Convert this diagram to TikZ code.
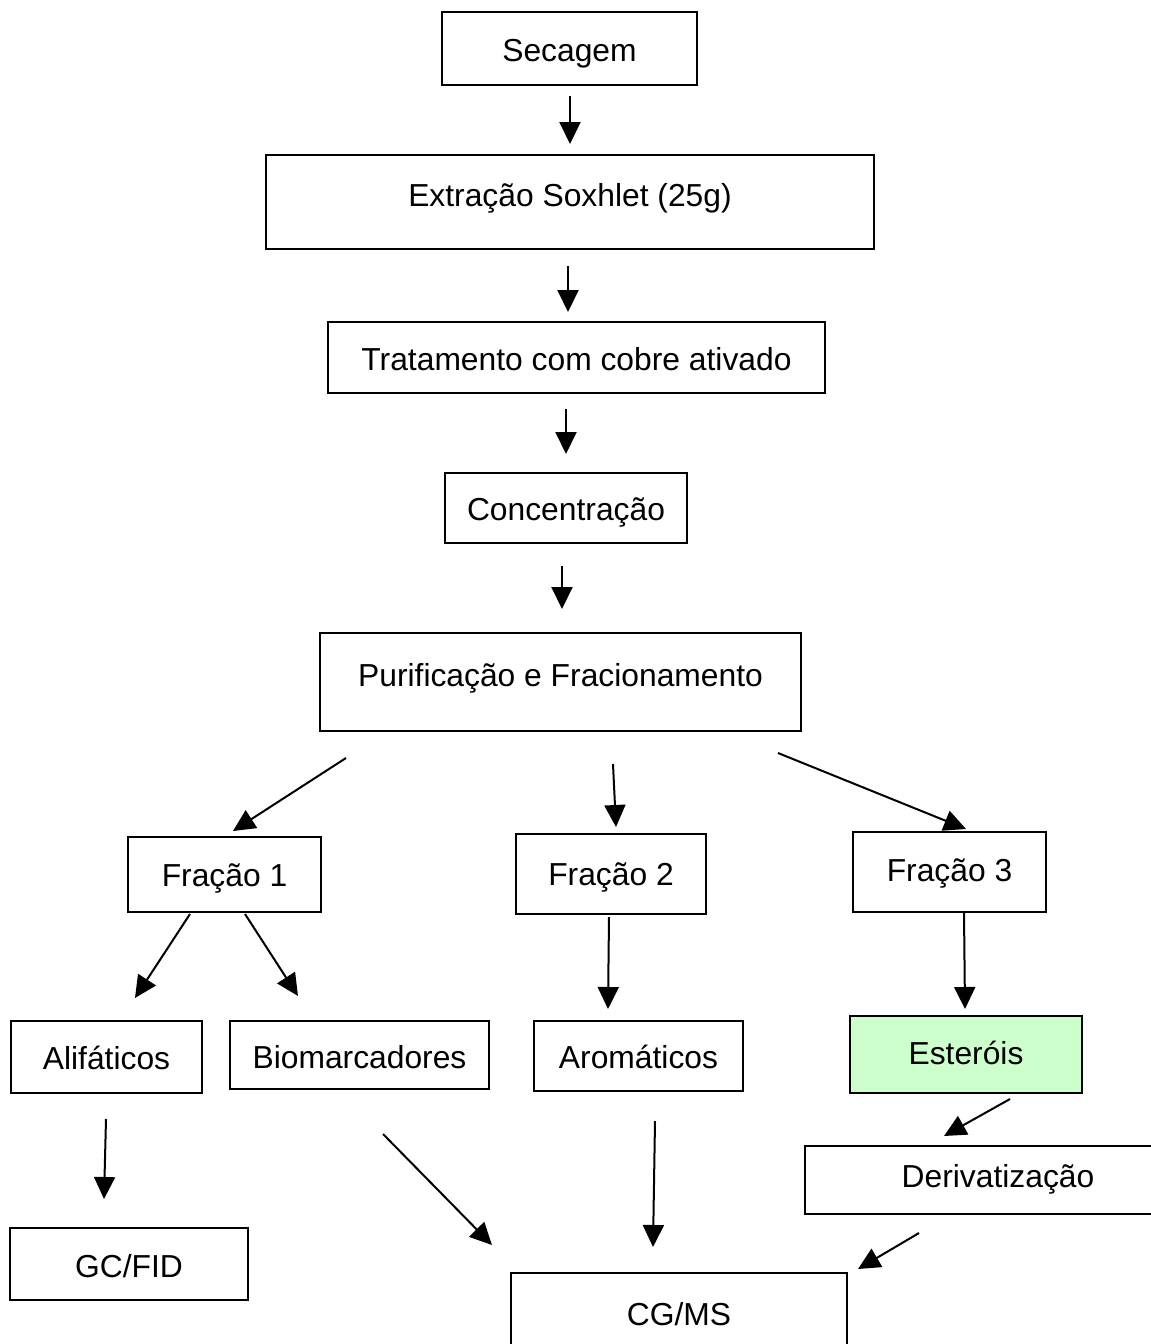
\documentclass[tikz,border=0pt]{standalone}
\usepackage{fontspec}
\setmainfont{Liberation Sans}
\usetikzlibrary{calc,arrows.meta}
\begin{document}
\begin{tikzpicture}[x=1pt,y=-1pt,
  box/.style={draw=black,line width=2pt,inner sep=0pt,text depth=0pt,text height=22.8pt,font=\fontsize{31.8}{38}\selectfont},
  arr/.style={line width=2pt,-{Triangle[length=22pt,width=21pt]}}]
\useasboundingbox (0,0) rectangle (1151,1344);
\clip (0,0) rectangle (1151,1344);
\fill[white] (0,0) rectangle (1151,1344);
\node[box,text height=25.8pt,minimum width=255pt,minimum height=73pt] (sec) at (569.5,48.5) {Secagem};
\node[box,text height=9.8pt,minimum width=608pt,minimum height=94pt] (sox) at (570,202) {Extração Soxhlet (25g)};
\node[box,text height=25.8pt,minimum width=497pt,minimum height=71pt] (tra) at (576.5,357.5) {Tratamento com cobre ativado};
\node[box,text height=24.8pt,minimum width=242pt,minimum height=70pt] (con) at (566,508) {Concentração};
\node[box,text height=8pt,minimum width=481pt,minimum height=98pt] (pur) at (560.5,682) {Purificação e Fracionamento};
\node[box,text height=23.8pt,minimum width=193pt,minimum height=75pt] (f1) at (224.5,874.5) {Fração 1};
\node[box,text height=23.8pt,minimum width=190pt,minimum height=80pt] (f2) at (611,874) {Fração 2};
\node[box,text height=19.8pt,minimum width=193pt,minimum height=80pt] (f3) at (949.5,872) {Fração 3};
\node[box,text height=24.8pt,minimum width=191pt,minimum height=72pt] (ali) at (106.5,1057) {Alifáticos};
\node[box,text height=27.8pt,minimum width=259pt,minimum height=68pt] (bio) at (359.5,1055) {Biomarcadores};
\node[box,text height=24.8pt,minimum width=209pt,minimum height=70pt] (aro) at (638.5,1056) {Aromáticos};
\node[box,text height=19.8pt,fill={rgb,255:red,204;green,255;blue,204},minimum width=232pt,minimum height=77pt] (est) at (966,1054.5) {Esteróis};
\node[box,text height=15pt,minimum width=386pt,minimum height=68pt] (der) at (998,1180) {Derivatização};
\node[box,text height=26.8pt,minimum width=238pt,minimum height=72pt] (gc) at (129,1264) {GC/FID};
\node[box,text height=24.8pt,minimum width=336pt,minimum height=80pt] (cg) at (679,1313) {CG/MS};
\draw[arr] ($(sec.south)+(0.5,10)$) -- ($(sox.north)+(0,-10)$);
\draw[arr] ($(sox.south)+(-2,16)$) -- ($(tra.north)+(-8.5,-9)$);
\draw[arr] ($(tra.south)+(-10.5,15)$) -- ($(con.north)+(0,-18)$);
\draw[arr] ($(con.south)+(-4,22)$) -- ($(pur.north)+(1.5,-23)$);
\draw[arr] ($(pur.south west)+(27,26)$) -- ($(f1.north)+(8.5,-5)$);
\draw[arr] ($(pur.south)+(52.5,32)$) -- ($(f2.north)+(5,-6)$);
\draw[arr] ($(pur.south east)+(-24,21)$) -- ($(f3.north)+(16.5,-2)$);
\draw[arr] ($(f1.south)+(-34.5,1)$) -- ($(ali.north)+(28.5,-22)$);
\draw[arr] ($(f1.south)+(20.5,1)$) -- ($(bio.north)+(-61.5,-24)$);
\draw[arr] ($(f2.south)+(-2,2)$) -- ($(aro.north)+(-30.5,-11)$);
\draw[arr] ($(f3.south)+(14.5,0)$) -- ($(est.north)+(-1,-6)$);
\draw[arr] ($(ali.south)+(-0.5,25)$) -- ($(gc.north)+(-25,-28)$);
\draw[arr] ($(bio.south)+(23.5,44)$) -- ($(cg.north west)+(-18,-27)$);
\draw[arr] ($(aro.south)+(16.5,29)$) -- ($(cg.north)+(-26,-25)$);
\draw[arr] ($(est.south)+(44,5)$) -- ($(der.north west)+(140,-9)$);
\draw[arr] ($(der.south west)+(115,18)$) -- ($(cg.north east)+(10,-3)$);
\end{tikzpicture}
\end{document}
